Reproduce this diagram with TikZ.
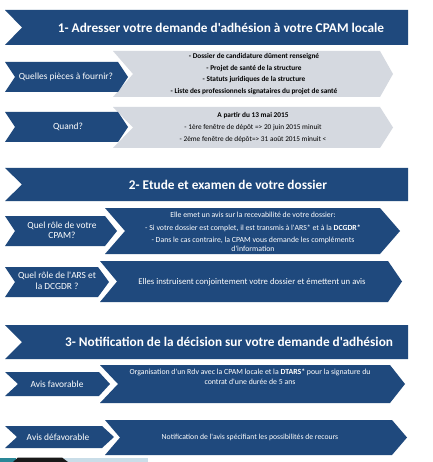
\documentclass[tikz,border=0pt]{standalone}
\usepackage{fontspec}
\setmainfont{Carlito}[Ligatures=TeXOff]
\definecolor{dblue}{HTML}{1F497D}
\definecolor{lgray}{HTML}{D5D9E0}
\definecolor{tealc}{HTML}{2A8797}
\definecolor{lblue}{HTML}{C9DDE8}
% #1 style, #2 left x, #3 top y, #4 bottom y, #5 notch depth, #6 flat right x, #7 tip depth
\newcommand{\chevshape}[7]{%
  \fill[#1] (#2,#3) -- (#6,#3) -- ({#6+#7},{(#3+#4)/2}) -- (#6,#4) -- (#2,#4) -- ({#2+#5},{(#3+#4)/2}) -- cycle;}
\tikzset{
  htext/.style={text=white,font=\fontsize{13.3}{15}\selectfont\bfseries,inner sep=0pt},
  stext/.style={text=white,font=\fontsize{9.4}{10.5}\selectfont,align=center,inner sep=0pt},
  gtext/.style={text=black,font=\fontsize{7.2}{12}\selectfont,align=center,inner sep=0pt},
  btext/.style={text=white,font=\fontsize{7.8}{9}\selectfont,align=center,inner sep=0pt},
}
\begin{document}
\begin{tikzpicture}[x=1pt,y=-1pt]
\useasboundingbox[fill=white] (0,0) rectangle (432,462);
% headers
\chevshape{dblue}{5}{10}{45}{17}{408}{0}
\chevshape{dblue}{5}{168}{201}{17}{408}{0}
\chevshape{dblue}{5}{325}{359}{17}{408}{0}
% section 1
\chevshape{lgray}{113}{51}{97}{20}{380}{13}
\chevshape{lgray}{113}{107}{148}{20}{380}{13}
\chevshape{dblue}{5}{62}{92}{10}{118}{10}
\chevshape{dblue}{5}{112}{142}{10}{118}{10}
% section 2
\chevshape{dblue}{105}{208}{254}{20}{380}{20}
\chevshape{dblue}{100}{261}{302}{17}{388}{14}
\chevshape{dblue}{5}{216}{246}{10}{105}{12}
\chevshape{dblue}{5}{267}{297}{10}{98}{11}
% section 3
\chevshape{dblue}{100}{365}{403}{18}{390}{15}
\chevshape{dblue}{105}{420}{455}{15}{392}{15}
\chevshape{dblue}{5}{372}{396}{13}{99}{11}
\chevshape{dblue}{5}{426}{448}{12}{102}{12}
% bottom cut-off image strip
\fill[lblue] (60,458) rectangle (148,462);
\fill[tealc] (0,458) rectangle (16,462);
\fill[black!90] (13,462) -- (18,457.5) -- (62,457.5) -- (68,462) -- cycle;
% header texts
\node[htext] (h1) at (221,27.5) {1- Adresser votre demande d'adhésion à votre CPAM locale};
\node[htext] (h2) at (228,184.5) {2- Etude et examen de votre dossier};
\node[htext] (h3) at (229,342) {3- Notification de la décision sur votre demande d'adhésion};
% section 1 texts
\node[stext] (q1) at (66,77) {Quelles pièces à fournir?};
\node[stext] (q2) at (68,127) {Quand?};
\node[gtext,font=\fontsize{7.3}{11.8}\selectfont\bfseries] (a1) at (254,74) {- Dossier de candidature dûment renseigné\\- Projet de santé de la structure\\- Statuts juridiques de la structure\\- Liste des professionnels signataires du projet de santé};
\node[gtext,font=\fontsize{7.3}{12}\selectfont] (a2) at (253,127.5) {\textbf{A partir du 13 mai 2015}\\- 1ère fenêtre  de dépôt => 20 juin 2015 minuit\\- 2ème fenêtre de dépôt=> 31 août 2015 minuit <};
% section 2 texts
\node[stext] (q3) at (62,230.5) {Quel rôle de votre\\CPAM?};
\node[stext] (q4) at (57,281) {Quel rôle de l'ARS et\\la DCGDR ?};
\node[btext] (a3) at (253,231.5) {Elle emet un avis sur la recevabilité de votre dossier:\\[4pt]- Si votre dossier est complet, il est transmis à l'ARS* et à la \textbf{DCGDR*}\\[3pt]- Dans le cas contraire, la CPAM vous demande les compléments\\d'information};
\node[btext,font=\fontsize{8.7}{9}\selectfont] (a4) at (252,282) {Elles instruisent conjointement votre dossier et émettent un avis};
% section 3 texts
\node[stext] (q5) at (57,384) {Avis favorable};
\node[stext] (q6) at (58,437) {Avis défavorable};
\node[btext,font=\fontsize{7.8}{9.5}\selectfont] (a5) at (250,376.5) {Organisation d'un Rdv avec la CPAM locale et la \textbf{DTARS*} pour la signature du\\contrat d'une durée de 5 ans};
\node[btext,font=\fontsize{7.7}{9}\selectfont] (a6) at (250,437.5) {Notification de l'avis spécifiant les possibilités de recours};
\end{tikzpicture}
\end{document}
